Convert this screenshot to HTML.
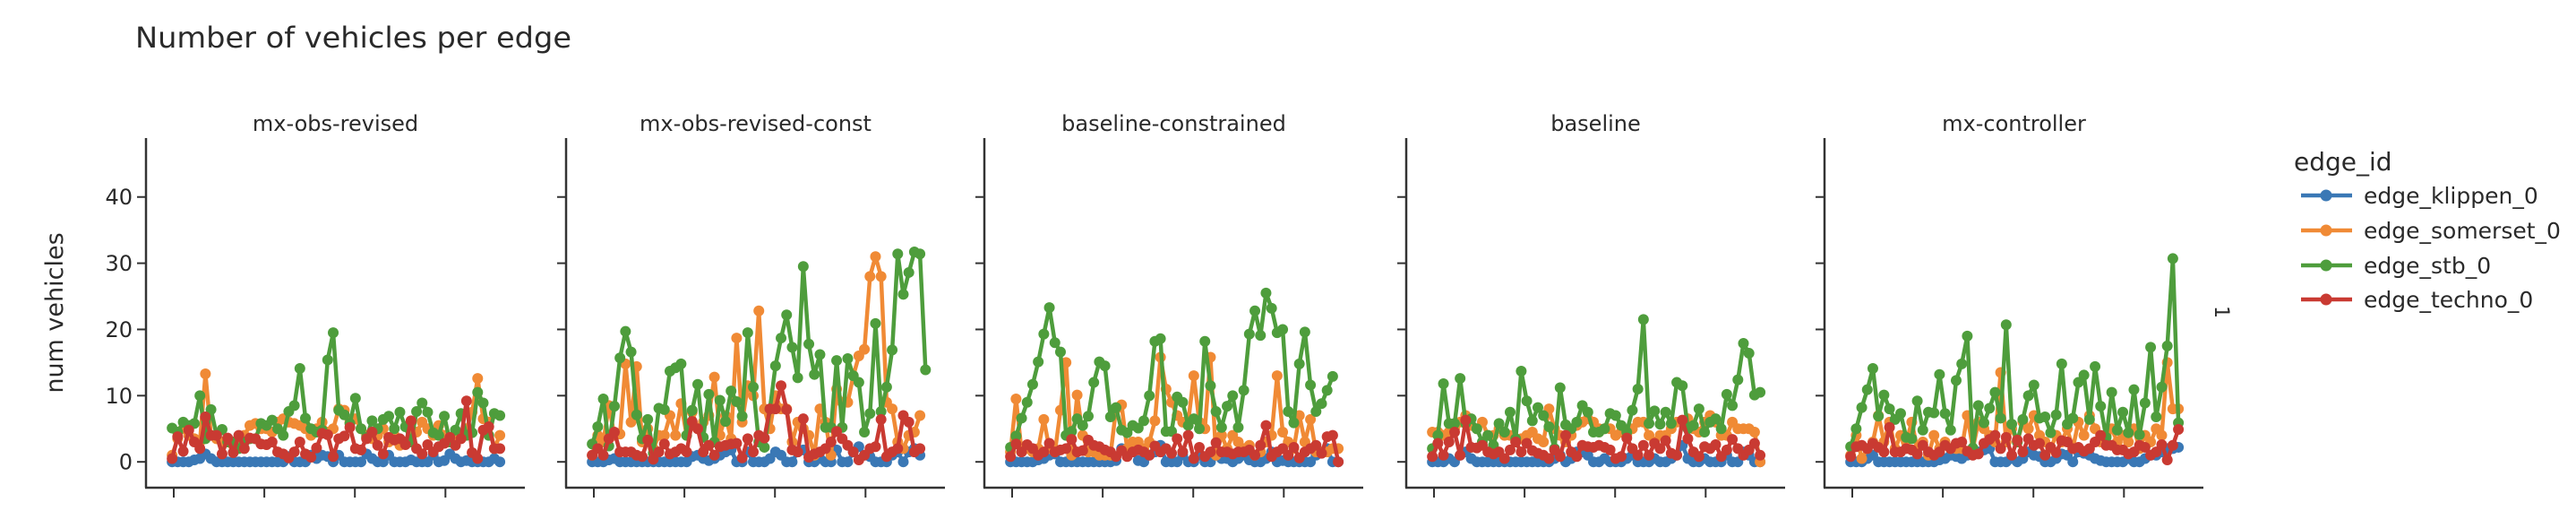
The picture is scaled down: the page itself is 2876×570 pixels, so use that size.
<!DOCTYPE html>
<html>
<head>
<meta charset="utf-8">
<style>
html,body{margin:0;padding:0;background:#fff;}
svg{display:block;}
text{font-family:"DejaVu Sans","Liberation Sans",sans-serif;fill:#2a2a2a;}
</style>
</head>
<body>
<svg id="chart" width="2876" height="570" viewBox="0 0 2876 570" xmlns="http://www.w3.org/2000/svg">
  <rect width="2876" height="570" fill="#fff"/>
  <text x="151" y="53" font-size="32" textLength="487" lengthAdjust="spacingAndGlyphs">Number of vehicles per edge</text>
  <text transform="translate(70,349) rotate(-90)" text-anchor="middle" font-size="27">num vehicles</text>
  <text transform="translate(2473,348) rotate(90)" text-anchor="middle" font-size="22">1</text>
  <g id="panels"></g>
  <g id="legend">
    <text x="2561" y="190" font-size="28">edge_id</text>
  </g>
</svg>
<script>
const panelNames = ["mx-obs-revised","mx-obs-revised-const","baseline-constrained","baseline","mx-controller"];
const seriesNames = ["edge_klippen_0","edge_somerset_0","edge_stb_0","edge_techno_0"];
const seriesColors = ["#3a78b5","#f08a35","#4e9d3c","#c93a32"];
const yTicks = [0,10,20,30,40];
const xTicks = [0.3,16.6,32.9,49.2];

// panel 1: mx-obs-revised
const p1Klippen = [0,0,0,0,0.3,0.5,1.2,0.5,0,0,0,0,0,0,0,0,0,0,0,0,0,0.8,0,0,0,1,0.5,1,0.8,0,1,0,0,0,0,1.2,0.5,0,0,1,0,0,0,0.3,0,0,0,1,0,0.2,1.2,0.5,0,0.2,0,0,0,0,0.5,0];
const p1Somerset = [1,3.5,5,4,3.5,3,13.3,4,3.5,3,3,2.5,3,4,5.5,5.8,5,5,4.5,6,6.5,6,5.8,5.5,5,4,5,6,4.5,5,8,7.8,6,6.5,5,4,3.5,4,5,3,4,2.5,3,5,4.5,6,5,4,5.5,4,3,3.5,4,5,7.5,12.6,6.5,6,2,4];
const p1Stb = [5.1,4.5,6,5.5,5.8,10,3.5,7.9,4,4.9,3,3,2,3,3.5,3.5,5.8,5.5,6.3,5,4,7.6,8.5,14.1,6.6,5,4.5,4.8,15.4,19.5,7.8,7.1,5.8,9.6,5,3.7,6.2,5,6.4,6.9,5,7.5,5.3,3,7.6,8.9,7.5,4.4,4,6.9,3,4.8,7.3,4,4.4,10.5,8.9,4,7.3,7.0];
const p1Techno = [0.5,3.8,1.6,4.8,3,2,6.8,4,4,1.2,3.6,1.4,4,2,3.6,3.5,2.7,2.6,3,1.5,1.2,0.6,1.5,3,1.2,0.7,2.1,4.3,4.1,0.8,3.5,3.9,5.2,2,1.8,3.5,4.5,2.5,1.2,3.7,3.3,3.5,2.6,6.2,2,1.2,2.6,1.5,2.3,2.8,3.7,2.5,3.5,9.2,1.4,0.5,4.8,5.3,2,2];

// panel 2: mx-obs-revised-const
const p2Klippen = [0,0,0,0.3,0.5,0,0,0,0,0,0,0,0,0,0,0,0,0,0.8,1,0.5,0.2,0.5,1,1.5,1.8,0,0,1.5,0,0,0,0.5,1.5,1,0,0,1.5,1.8,0,0,0.5,0,0,1.8,0,0,1.5,2.3,1,0.8,0,0,0,1,1.5,0,1.5,2,1];
const p2Somerset = [1,4,3,8.5,4,4.2,14.8,6,14.4,3,5,2,4,4,7,4,8.8,4,7.5,5,6,7,12.8,4,7,3.5,18.7,6,11.5,10,22.8,8,5,10,8,8,3,6,5,4,1,8,6,1,11,9,9,13,16,17,28,31,28,9,8,3,2,4,4.5,7];
const p2Stb = [2.7,5.3,9.5,2.4,8.4,15.7,19.7,16.6,7.1,3.5,6.4,1.3,8.1,7.9,13.7,14.2,14.8,4,7.8,11.7,3.7,10.2,3,9.3,6.1,10.7,9.1,6.9,19.5,11.3,3,2.2,8,14.5,18.7,22.2,17.3,12.7,29.5,17.8,13.2,16.2,5.2,5.2,15.3,5.2,15.6,13,12,4.5,7.3,20.9,7.6,11.3,16.9,31.4,25.3,28.6,31.7,31.4,13.9];
const p2Techno = [1,2,1,3.5,4.5,1.5,1.5,1.5,1,0.8,3.3,0.4,1.5,2.7,1.2,1.5,2,1.5,6.1,5,1.5,2.5,1,2.3,2.5,2.7,2.8,0.6,3.5,1.5,4,3.6,8,8,11.5,7.9,1.8,1.5,6.5,0.7,1.2,1.5,2,3,4.6,3.5,2.5,1.5,0.3,1,2,2.3,6.4,0.8,1.5,2,7,6,1.5,2];

// panel 3: baseline-constrained
const p3Klippen = [0,0,0,0,0,0.3,0.5,1,1.2,0,0,0,0,0,0,0,0,0,0,0.2,2,2,1.5,0.2,0,1,1.5,2.5,0,0,0,1,0,0,1,0,0,1,0.5,0.5,0,0.5,1,0.3,0,0,0.5,1.5,0,0.2,0,0,0,0,0,1,1.5,2,0,0];
const p3Somerset = [1.5,9.5,1.5,2,1.5,2,6.4,2,1.5,7.8,15,1,10.1,4,1.5,1.5,1,1,1,8,8.6,2,3,3,2,3,6.2,15.8,11,9,7,6,6,13,6,5,15.8,1,4,2,4,3,2,2.5,1,1.5,3,4,13,4.5,3,2,7,3,6.4,1.5,1.5,1.5,2,2];
const p3Stb = [2.2,3.9,6.6,9,11.7,15.1,19.3,23.3,18,16.6,4,4.6,6.5,5.5,6.9,12,15.1,14.5,6.8,8.2,4.8,4.4,5.5,5.1,6.2,10,18.2,18.6,4.6,4.6,9.8,9,5.5,6.5,5,18.2,11.5,7.6,5.2,8.4,10,5.2,10.8,19.3,22.8,19.1,25.5,23.2,19.5,20,7.6,5.9,14.8,19.6,11.6,7.6,8.8,10.8,12.9];
const p3Techno = [0.8,2.7,1.5,2.6,2,1,1.5,2.8,1.5,1.8,2,3.4,1.5,1.7,3.3,2.5,2.3,1.8,1.5,0.8,1.7,0.8,1.5,1.8,1.5,1,2.4,1.5,2,1.3,3.5,1.5,4,0.5,2.2,0.8,1.5,2.9,1.5,1.5,1.2,1.5,1.5,1.8,1,2.5,5.5,0.8,1.5,2,1,2.2,0.6,1.5,2,2.5,1.3,3.8,4,0];

// panel 4: baseline
const p4Klippen = [0,0,0,0.5,0,1,1.5,0.5,0,0,0,0,0,0,0,0,0,0,0,0,0,0,0.5,1,0,0.5,1.5,1.5,1,0,0,0.5,0,0,0,0.5,1,0,0,0,0.5,0,0,0.5,1,2.5,0.5,0,0,0.5,0,0,0,1,0,0,1.5,1,0,0];
const p4Somerset = [4.5,4.5,4,4.5,5,6,7,5.5,5,6,4,4,5,4,4,3,3.5,4,4.5,3.5,3,8,5,4,3,4,5.5,6,6.5,6,5,5,5,4,4.5,4,5,6,6,4,3,4,4,5,6,6,6.5,5,4.5,6,7,6,4,4,6,5,5,5,4.5,0];
const p4Stb = [2,4,11.8,5.8,5.8,12.6,5.8,6.5,5,3,4,2.5,5.8,4.5,7.5,3.5,13.7,9.2,6.2,8.2,7,5.3,2,11.2,5.6,5,6,8.5,7.5,4.5,4.5,5,7.3,7,5.5,4.5,7.8,11,21.5,5.8,7.7,5.7,7.5,5.8,12,11.5,5,5.5,8,4.5,6,6.5,5,10.2,8.5,12.4,17.9,16.4,10.1,10.5];
const p4Techno = [0.8,2.8,1,3,4.5,1,6.3,2.2,2.1,2.5,1.5,1.2,1.5,0.5,1.8,3,1.5,2.8,1.7,1.3,1,0.5,1.8,0.8,4,1.5,0.8,2.5,2.3,2.2,2.5,2.2,1.8,0.5,0.8,3.6,2,1,2.5,1,2.8,2,3.2,1.3,1,6.3,3.5,1.5,0.8,2.3,2,2.6,0.8,1.8,3.4,2,1,1.8,2.8,1];

// panel 5: mx-controller
const p5Klippen = [0,0,0,0.5,1,0,0,0,0,0,0,0,0,0,0,0,0.3,0.5,1,0.8,0.5,1,1.5,1.5,1.8,2,0,0,0,0.5,0,0.5,1.5,1,0.8,0,0,0.5,1.2,1,0,1.5,1.3,1,0.5,0.2,0,0,0,0,0.5,0,0,0.5,1,1,1.5,2,2,2.2];
const p5Somerset = [1,4,0.5,2,3,7,3,6,2,4,3,6,2,3,1,4,2,3,2,2,2,7,2,6,5,4,3,13.5,3,5,3,6,5,7,4,3,2,4,3,5,2,6,4,7,5,3,4,5,3,4,3,5,2,4,3,5,4,15,8,8];
const p5Stb = [2.3,5,8.2,10.9,14.1,6.9,10.1,8,6.4,7.3,3.7,3.5,9.2,4.8,7.5,7.4,13.2,7.3,4.8,12.3,14.8,19,2.1,8.5,5.9,8.1,10.5,6.6,20.7,5.7,3,6.4,10,11.6,6.6,6.8,4.4,7.1,14.8,5.7,6.6,12,13.1,6.4,14.4,8.4,3.7,10.5,4.8,7.5,4.4,10.9,4.1,8.9,17.3,6.8,11.3,17.5,30.7,5.9];
const p5Techno = [0.8,2.3,2.5,2,2.8,2.2,1.5,5.2,1.5,1.5,2,1.8,1.2,2.5,1.5,1,1.5,2.5,2,2.8,3,1.6,1,1.2,2.8,3.4,4,2,3.7,1,3.3,1.5,3.5,2.5,2.8,1,2.2,1.4,3.2,3,2,2.2,1.6,2,3,4,2.5,2.5,1.8,1.8,1.2,1.5,2.5,2.2,1,1.5,2.6,0.3,2.5,4.9];

const panelData = [
  [p1Klippen,p1Somerset,p1Stb,p1Techno],
  [p2Klippen,p2Somerset,p2Stb,p2Techno],
  [p3Klippen,p3Somerset,p3Stb,p3Techno],
  [p4Klippen,p4Somerset,p4Stb,p4Techno],
  [p5Klippen,p5Somerset,p5Stb,p5Techno]
];

const NS = "http://www.w3.org/2000/svg";
const panelLefts = [163,632,1099,1570,2037];
const panelW = 423, plotTop = 154, plotBottom = 544;
const xMin = -4.7, xMax = 63.5, yMin = -3.9, yMax = 48.9;
function xScale(left, v){ return left + (v - xMin) / (xMax - xMin) * panelW; }
function yScale(v){ return plotBottom - (v - yMin) / (yMax - yMin) * (plotBottom - plotTop); }
function mk(tag, attrs, parent){
  const el = document.createElementNS(NS, tag);
  for (const k in attrs) el.setAttribute(k, attrs[k]);
  parent.appendChild(el);
  return el;
}
const panelsG = document.getElementById('panels');
panelNames.forEach((name, p) => {
  const left = panelLefts[p];
  const g = mk('g', {}, panelsG);
  
  
  const title = mk('text', {x: left + panelW/2, y: 146, 'text-anchor': 'middle', 'font-size': 24}, g);
  title.textContent = name;
  
  
  const yAxis = mk('line', {x1: left, y1: plotTop, x2: left, y2: plotBottom, stroke: '#333', 'stroke-width': 2.5}, g);
  
  
  const xAxis = mk('line', {x1: left - 1, y1: plotBottom, x2: left + panelW, y2: plotBottom, stroke: '#333', 'stroke-width': 2.5}, g);
  
  
  yTicks.forEach(t => {
    const y = yScale(t);
    const tk = mk('line', {x1: left - 10, y1: y, x2: left, y2: y, stroke: '#333', 'stroke-width': 2}, g);
    
    
    if (p === 0) {
      const lb = mk('text', {x: left - 15, y: y + 8.5, 'text-anchor': 'end', 'font-size': 24}, g);
      lb.textContent = t;
      
      
    }
  });
  xTicks.forEach(t => {
    const x = xScale(left, t);
    const tk = mk('line', {x1: x, y1: plotBottom, x2: x, y2: plotBottom + 11, stroke: '#333', 'stroke-width': 2}, g);
    
    
  });
  panelData[p].forEach((vals, s) => {
    const sg = mk('g', {}, g);
    
    
    const pts = vals.map((v, i) => xScale(left, i).toFixed(1) + ',' + yScale(v).toFixed(1)).join(' ');
    const line = mk('polyline', {points: pts, fill: 'none', stroke: seriesColors[s], 'stroke-width': 4.5, 'stroke-linejoin': 'round'}, sg);
    
    
    vals.forEach((v, i) => {
      const c = mk('circle', {cx: xScale(left, i), cy: yScale(v), r: 6, fill: seriesColors[s]}, sg);
      
      
    });
  });
});
const legend = document.getElementById('legend');
const legendYs = [218, 257, 296, 334];
seriesNames.forEach((n, s) => {
  const eg = mk('g', {}, legend);
  
  
  mk('line', {x1: 2569, y1: legendYs[s], x2: 2626, y2: legendYs[s], stroke: seriesColors[s], 'stroke-width': 4.5}, eg);
  mk('circle', {cx: 2597, cy: legendYs[s], r: 6.5, fill: seriesColors[s]}, eg);
  const t = mk('text', {x: 2639, y: legendYs[s] + 9, 'font-size': 25}, eg);
  t.textContent = n;
});
</script>
</body>
</html>
